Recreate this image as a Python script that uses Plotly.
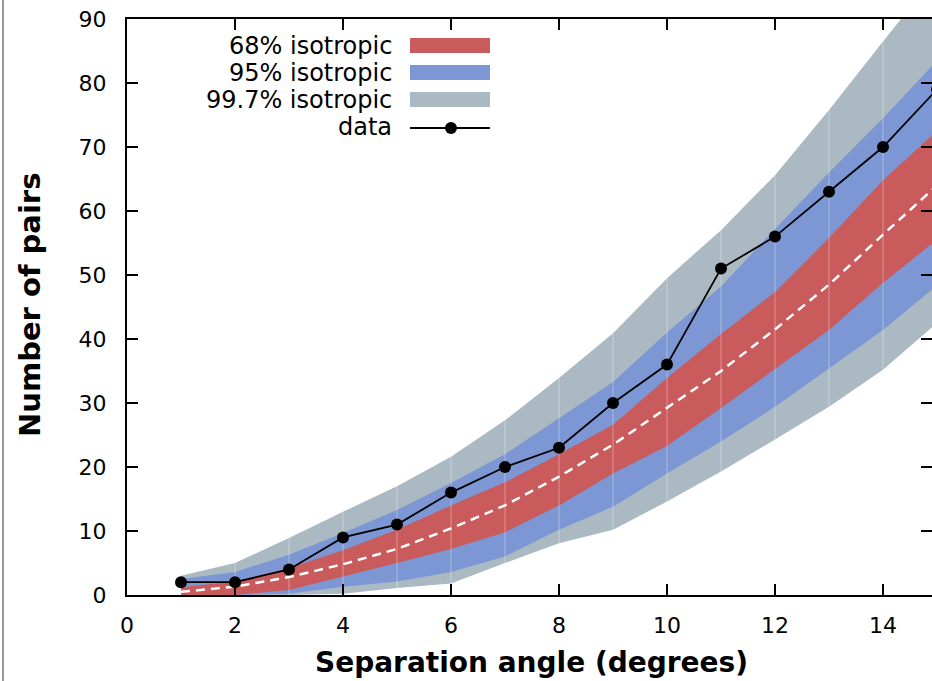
import plotly.graph_objects as go

# ---------------- data ----------------
angles = [1, 2, 3, 4, 5, 6, 7, 8, 9, 10, 11, 12, 13, 14, 15]
data_pairs = [2, 2, 4, 9, 11, 16, 20, 23, 30, 36, 51, 56, 63, 70, 79]

median = [0.5, 1.3, 2.8, 4.8, 7.2, 10.4, 14.0, 18.5, 23.5, 29.3, 35.0, 41.5, 48.5, 56.3, 64.0]
band68_lo = [0.0, 0.0, 0.8, 2.9, 5.0, 7.2, 9.8, 14.0, 19.0, 23.3, 29.2, 35.3, 41.4, 48.8, 55.5]
band68_hi = [1.2, 2.1, 4.2, 7.0, 10.2, 14.0, 17.6, 22.0, 26.6, 33.9, 40.8, 47.3, 55.8, 64.8, 72.5]
band95_lo = [0.0, 0.0, 0.2, 1.3, 2.1, 3.6, 6.0, 10.2, 13.8, 19.0, 24.0, 29.4, 35.4, 41.4, 48.4]
band95_hi = [2.5, 3.6, 6.3, 9.7, 13.3, 17.5, 22.0, 27.6, 33.3, 41.0, 48.2, 57.2, 66.0, 74.5, 83.5]
band997_lo = [0.0, 0.0, 0.0, 0.2, 1.1, 1.8, 5.0, 8.1, 10.2, 14.6, 19.3, 24.3, 29.4, 35.2, 42.5]
band997_hi = [3.0, 5.0, 8.9, 13.0, 17.0, 21.6, 27.3, 33.9, 40.9, 49.5, 57.0, 65.6, 75.8, 86.5, 97.0]

x_ticks = [0, 2, 4, 6, 8, 10, 12, 14]
y_ticks = [0, 10, 20, 30, 40, 50, 60, 70, 80, 90]

legend_labels = ["68% isotropic", "95% isotropic", "99.7% isotropic", "data"]

# ---------------- style ----------------
RED = "#C95B5C"
BLUE = "#7C97D3"
GRAY = "#ABB9C3"
FONT = "DejaVu Sans"

fig = go.Figure()


def band(lo, hi, color):
    fig.add_trace(go.Scatter(
        x=angles + angles[::-1], y=hi + lo[::-1],
        fill="toself", fillcolor=color, mode="none",
        hoverinfo="skip", showlegend=False))


band(band997_lo, band997_hi, GRAY)
band(band95_lo, band95_hi, BLUE)
band(band68_lo, band68_hi, RED)

# faint seams at each integer angle (polygon seams in the original rendering)
sx, sy = [], []
for i, a in enumerate(angles[1:-1], start=1):
    sx += [a, a, None]
    sy += [band997_lo[i], band997_hi[i], None]
fig.add_trace(go.Scatter(x=sx, y=sy, mode="lines",
                         line=dict(color="rgba(255,255,255,0.35)", width=1),
                         hoverinfo="skip", showlegend=False))

fig.add_trace(go.Scatter(x=angles, y=median, mode="lines",
                         line=dict(color="white", width=2.5, dash="9px,6px"),
                         showlegend=False))

fig.add_trace(go.Scatter(x=angles, y=data_pairs, mode="lines+markers",
                         line=dict(color="black", width=1.8),
                         marker=dict(color="black", size=12),
                         showlegend=False))

# invisible trace to carry the right-hand mirrored ticks
fig.add_trace(go.Scatter(x=[None], y=[None], yaxis="y2", showlegend=False,
                         hoverinfo="skip"))

# ---------------- custom legend (text left, swatch right) ----------------
L, T, PW, PH = 127, 19, 805, 576


def px(xp):
    return (xp - L) / PW


def py(yp):
    return (T + PH - yp) / PH


shapes = []
annotations = []
rows_y = [46, 73, 100, 127]
swatch_colors = [RED, BLUE, GRAY]
for k, lab in enumerate(legend_labels):
    annotations.append(dict(xref="paper", yref="paper", x=px(394), y=py(rows_y[k]),
                            text=lab, showarrow=False, xanchor="right", yanchor="middle",
                            font=dict(family=FONT, size=24, color="black")))
for k, col in enumerate(swatch_colors):
    shapes.append(dict(type="rect", xref="paper", yref="paper",
                       x0=px(410), x1=px(490), y0=py(rows_y[k] - 8), y1=py(rows_y[k] + 7),
                       fillcolor=col, line=dict(width=0), layer="above"))
shapes.append(dict(type="line", xref="paper", yref="paper",
                   x0=px(410), x1=px(490), y0=py(128), y1=py(128),
                   line=dict(color="black", width=1.8), layer="above"))
shapes.append(dict(type="circle", xref="paper", yref="paper",
                   xsizemode="pixel", ysizemode="pixel",
                   xanchor=px(451), yanchor=py(128), x0=-6, x1=6, y0=-6, y1=6,
                   fillcolor="black", line=dict(width=0), layer="above"))
# thin border at the left edge of the picture
shapes.append(dict(type="line", xref="paper", yref="paper",
                   x0=px(3), x1=px(3), y0=py(0), y1=py(681),
                   line=dict(color="#333333", width=1)))

annotations.append(dict(xref="paper", yref="paper", x=px(531), y=py(662),
                        text="<b>Separation angle (degrees)</b>", showarrow=False,
                        xanchor="center", yanchor="middle",
                        font=dict(family=FONT, size=28, color="black")))
annotations.append(dict(xref="paper", yref="paper", x=px(30), y=py(305),
                        text="<b>Number of pairs</b>", showarrow=False, textangle=-90,
                        xanchor="center", yanchor="middle",
                        font=dict(family=FONT, size=29, color="black")))

fig.update_layout(
    width=932, height=681,
    margin=dict(l=L, r=0, t=T, b=681 - T - PH),
    paper_bgcolor="white", plot_bgcolor="white",
    showlegend=False,
    shapes=shapes, annotations=annotations,
    xaxis=dict(range=[0, PW / 54.0], tickvals=x_ticks, ticks="inside", ticklen=11,
               tickwidth=1.5, tickcolor="black", showline=True, linecolor="black",
               linewidth=2, mirror="ticks", showgrid=False, zeroline=False,
               ticklabelstandoff=10,
               tickfont=dict(family=FONT, size=22, color="black")),
    yaxis=dict(range=[0, 90], tickvals=y_ticks, ticks="inside", ticklen=11,
               tickwidth=1.5, tickcolor="black", showline=True, linecolor="black",
               linewidth=2, mirror=False, showgrid=False, zeroline=False,
               ticklabelstandoff=14,
               tickfont=dict(family=FONT, size=22, color="black")),
    yaxis2=dict(range=[0, 90], tickvals=y_ticks, ticks="inside", ticklen=11,
                tickwidth=1.5, tickcolor="black", overlaying="y", side="right",
                showline=False, showgrid=False, zeroline=False, showticklabels=False),
)

fig.write_html("out.html",
               config={"displayModeBar": False},
               post_script="document.body.style.margin='0';"
                           "document.body.style.overflow='hidden';")
